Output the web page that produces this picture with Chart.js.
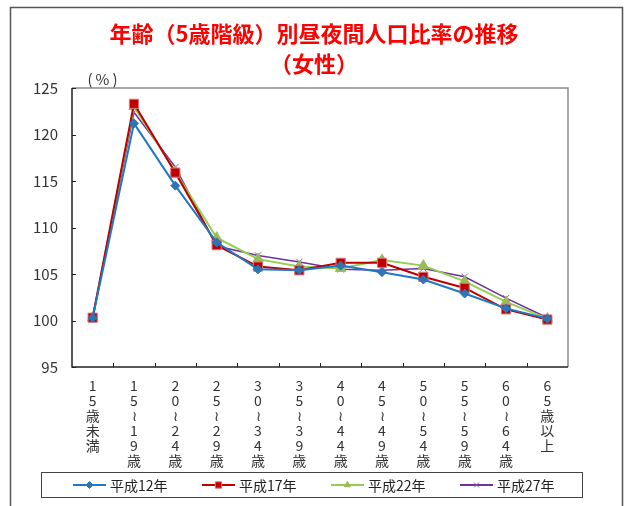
<!DOCTYPE html>
<html>
<head>
<meta charset="utf-8">
<script src="https://cdn.jsdelivr.net/npm/chart.js@4.4.1/dist/chart.umd.min.js"></script>
<style>
  html, body { margin: 0; padding: 0; background: #fff; }
  #wrap { position: relative; width: 625px; height: 506px; }
</style>
</head>
<body>
<div id="wrap"><canvas id="chart" width="625" height="506"></canvas></div>
<script>
// Chart data
const titleLines = ['年齢（5歳階級）別昼夜間人口比率の推移', '（女性）'];
const ageGroups = ['15歳未満', '15～19歳', '20～24歳', '25～29歳', '30～34歳', '35～39歳',
  '40～44歳', '45～49歳', '50～54歳', '55～59歳', '60～64歳', '65歳以上'];
const seriesNames = ['平成12年', '平成17年', '平成22年', '平成27年'];
const h12 = [100.3, 121.2, 114.5, 108.4, 105.5, 105.4, 105.9, 105.2, 104.4, 102.9, 101.3, 100.2];
const h17 = [100.3, 123.3, 115.9, 108.1, 105.8, 105.4, 106.2, 106.2, 104.7, 103.5, 101.2, 100.1];
const h22 = [100.3, 123.0, 116.0, 108.9, 106.6, 105.8, 105.6, 106.5, 105.9, 104.2, 102.0, 100.2];
const h27 = [100.4, 122.4, 116.5, 108.0, 107.0, 106.3, 105.5, 105.4, 105.6, 104.7, 102.4, 100.3];
const yTicks = [95, 100, 105, 110, 115, 120, 125];

const JP = '"Noto Sans CJK JP", "Noto Sans", sans-serif';

// vertical writing: one character per line, the wave dash turned upright
const verticalLabels = ageGroups.map(s => [...s.replace('～', '≀')]);

const styles = [
  { line: '#1f78c8', fill: '#2e75b6', border: '#2e75b6', point: 'rectRot', r: 4.5, w: 2 },
  { line: '#c00000', fill: '#c00000', border: '#d9767a', point: 'rect', r: 6.5, w: 2 },
  { line: '#92d050', fill: '#9bbb59', border: '#9bbb59', point: 'triangle', r: 6, w: 2 },
  { line: '#7030a0', fill: '#8064a2', border: '#8064a2', point: 'crossRot', r: 4.5, w: 1.5 }
];
const seriesData = [h12, h17, h22, h27];

const datasets = seriesData.map((d, i) => ({
  label: seriesNames[i],
  data: d,
  borderColor: styles[i].line,
  borderWidth: styles[i].w,
  backgroundColor: styles[i].fill,
  pointStyle: styles[i].point,
  pointRadius: styles[i].r,
  pointBackgroundColor: styles[i].fill,
  pointBorderColor: styles[i].border,
  pointBorderWidth: 1,
  tension: 0
}));

// frame, title, axis ticks and legend box
const decor = {
  id: 'decor',
  beforeDraw(chart) {
    const ctx = chart.ctx;
    ctx.save();
    ctx.fillStyle = '#fff';
    ctx.fillRect(0, 0, chart.width, chart.height);
    // outer frame
    ctx.strokeStyle = '#555';
    ctx.lineWidth = 1.5;
    ctx.beginPath();
    ctx.moveTo(10.5, 506);
    ctx.lineTo(10.5, 7.5);
    ctx.lineTo(622.5, 7.5);
    ctx.lineTo(622.5, 506);
    ctx.stroke();
    ctx.restore();
  },
  afterDraw(chart) {
    const ctx = chart.ctx;
    const a = chart.chartArea;
    ctx.save();
    // title
    ctx.fillStyle = '#ff0000';
    ctx.font = 'bold 22px ' + JP;
    ctx.textAlign = 'center';
    ctx.textBaseline = 'middle';
    ctx.fillText(titleLines[0], 314, 34);
    ctx.fillText(titleLines[1], 314, 64);
    // unit
    ctx.fillStyle = '#333';
    ctx.font = '15px ' + JP;
    ctx.letterSpacing = '3px';
    ctx.fillText('(%)', 104, 79);
    ctx.letterSpacing = '0px';

    // plot border: top/right grey, left/bottom dark
    ctx.lineWidth = 1.5;
    ctx.strokeStyle = '#8a8a8a';
    ctx.beginPath();
    ctx.moveTo(a.left, a.top);
    ctx.lineTo(a.right, a.top);
    ctx.lineTo(a.right, a.bottom);
    ctx.stroke();
    ctx.strokeStyle = '#222';
    ctx.beginPath();
    ctx.moveTo(a.left, a.top);
    ctx.lineTo(a.left, a.bottom);
    ctx.lineTo(a.right, a.bottom);
    ctx.stroke();

    // inner tick marks
    ctx.lineWidth = 1;
    const ys = chart.scales.y;
    yTicks.forEach(v => {
      const py = Math.round(ys.getPixelForValue(v)) + 0.5;
      ctx.beginPath();
      ctx.moveTo(a.left, py);
      ctx.lineTo(a.left + 4, py);
      ctx.stroke();
    });
    const xs = chart.scales.x;
    for (let i = 1; i < ageGroups.length; i++) {
      const px = Math.round((xs.getPixelForValue(i - 1) + xs.getPixelForValue(i)) / 2) + 0.5;
      ctx.beginPath();
      ctx.moveTo(px, a.bottom);
      ctx.lineTo(px, a.bottom - 4);
      ctx.stroke();
    }

    // legend box
    ctx.strokeStyle = '#444';
    ctx.lineWidth = 1;
    ctx.strokeRect(41.5, 472.5, 541, 25);
    ctx.font = '14px ' + JP;
    ctx.textAlign = 'left';
    ctx.textBaseline = 'middle';
    const ly = 485;
    chart.data.datasets.forEach((ds, i) => {
      const x0 = 73 + i * 129;
      ctx.strokeStyle = ds.borderColor;
      ctx.lineWidth = 2;
      ctx.beginPath();
      ctx.moveTo(x0, ly);
      ctx.lineTo(x0 + 33, ly);
      ctx.stroke();
      ctx.fillStyle = ds.pointBackgroundColor;
      ctx.strokeStyle = ds.pointBorderColor;
      ctx.lineWidth = 1;
      Chart.helpers.drawPoint(ctx, {
        pointStyle: ds.pointStyle,
        radius: ds.pointStyle === 'rect' ? 4.5 : 3.5,
        rotation: 0,
        borderWidth: 1
      }, x0 + 16.5, ly);
      ctx.fillStyle = '#222';
      ctx.fillText(ds.label, x0 + 37, ly + 1);
    });
    ctx.restore();
  }
};

new Chart(document.getElementById('chart'), {
  type: 'line',
  data: { labels: verticalLabels, datasets: datasets },
  options: {
    responsive: false,
    animation: false,
    layout: { padding: { top: 88, right: 57, left: 0, bottom: 0 } },
    plugins: {
      legend: { display: false },
      title: { display: false },
      tooltip: { enabled: false }
    },
    scales: {
      x: {
        offset: true,
        grid: { display: false, drawTicks: false },
        border: { display: false },
        ticks: {
          autoSkip: false,
          maxRotation: 0,
          minRotation: 0,
          padding: 11,
          color: '#333',
          font: { family: JP, size: 14, lineHeight: '15px' }
        },
        afterFit: (scale) => { scale.height = 139; }
      },
      y: {
        min: 95,
        max: 125,
        grid: { display: false, drawTicks: false },
        border: { display: false },
        afterBuildTicks: (scale) => { scale.ticks = yTicks.map(v => ({ value: v })); },
        ticks: {
          padding: 14,
          color: '#333',
          font: { family: JP, size: 15 }
        },
        afterFit: (scale) => { scale.width = 72; }
      }
    }
  },
  plugins: [decor]
});
</script>
</body>
</html>
